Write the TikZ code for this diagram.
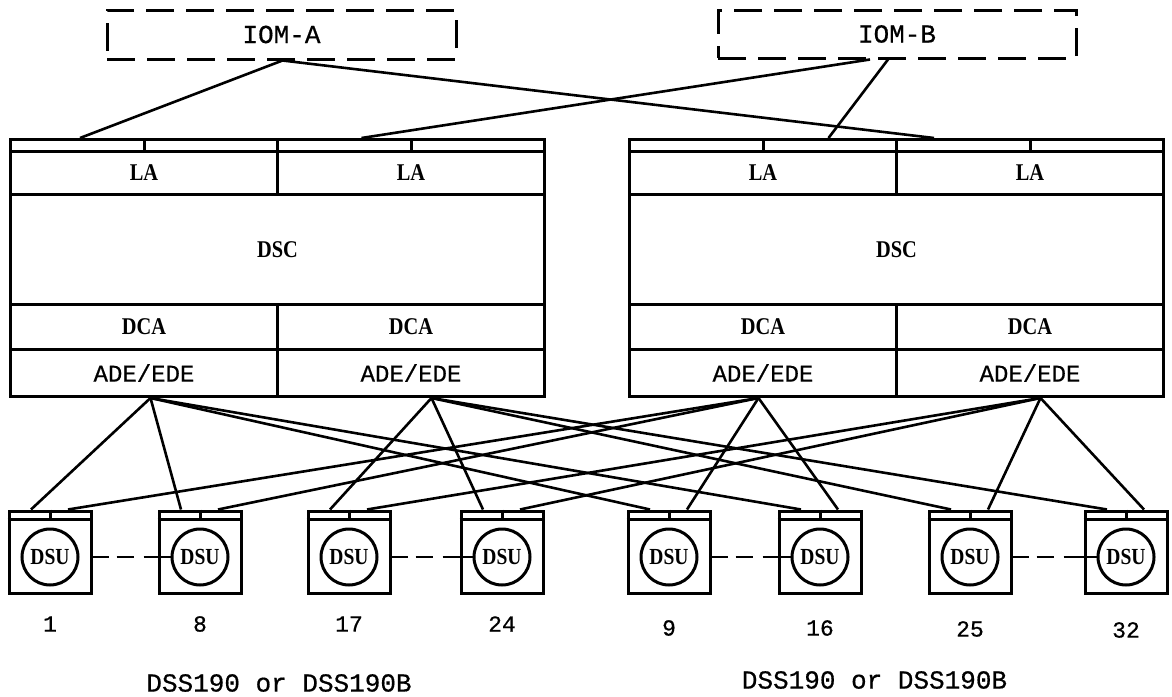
\documentclass[tikz,border=0pt]{standalone}
\usepackage{fontspec}
\setmainfont{Liberation Serif}
\newfontfamily\typefont[FakeBold=0.6]{Liberation Mono}
\newfontfamily\labfont[FakeStretch=0.85]{Liberation Serif}
\usetikzlibrary{calc}

\begin{document}
\begin{tikzpicture}
    [%%%%%%%%%%%%%%%%%%%%%%%%%%%%%%
        x=0.5pt, y=-0.5pt, line width=1.5pt,
        iom/.style={rectangle,draw=black,dash pattern=on 14pt off 6pt,font=\typefont\fontsize{13}{15}\selectfont},
        cell/.style={rectangle,draw=black,anchor=north west,inner sep=0pt,minimum width=133.5pt,font=\labfont\bfseries\fontsize{12}{14}\selectfont},
        wide/.style={cell,minimum width=267pt},
        adecell/.style={cell,font=\typefont\fontsize{12}{14}\selectfont},
        dsubox/.style={rectangle,draw=black,minimum width=41pt,minimum height=41pt,inner sep=0pt},
        disk/.style={circle,draw=black,minimum size=28pt,inner sep=0pt,font=\labfont\bfseries\fontsize{11.5}{12}\selectfont},
        num/.style={font=\typefont\fontsize{11.5}{14}\selectfont},
        title/.style={font=\typefont\fontsize{13}{15}\selectfont},
        link/.style={draw=black,line width=1.3pt},
        dsulink/.style={draw=black,line width=1.3pt,dash pattern=on 8pt off 4pt on 8.5pt off 5pt on 20pt},
    ]%%%%%%%%%%%%%%%%%%%%%%%%%%%%%%

\useasboundingbox (0,0) rectangle (1172,696);

\node[iom,minimum width=174.5pt,minimum height=24.5pt] (iomA) at (281.5,34.5) {IOM-A};
\node[iom,minimum width=179pt,minimum height=24pt] (iomB) at (897,34) {IOM-B};

\foreach \cx/\k in {9/1,628/2}{
    \node[cell,minimum height=6pt] (s\k1) at (\cx,138) {};
    \node[cell,minimum height=6pt] (s\k2) at (\cx+267,138) {};
    \draw (s\k1.north) -- (s\k1.south);
    \draw (s\k2.north) -- (s\k2.south);
    \node[cell,minimum height=21.5pt] (la\k1) at (\cx,150) {LA};
    \node[cell,minimum height=21.5pt] (la\k2) at (\cx+267,150) {LA};
    \node[wide,minimum height=55pt] (dsc\k) at (\cx,193) {DSC};
    \node[cell,minimum height=22.5pt] (dca\k1) at (\cx,303) {DCA};
    \node[cell,minimum height=22.5pt] (dca\k2) at (\cx+267,303) {DCA};
    \node[adecell,minimum height=23.5pt] (ade\k1) at (\cx,348) {ADE/EDE};
    \node[adecell,minimum height=23.5pt] (ade\k2) at (\cx+267,348) {ADE/EDE};
}

\draw[link] ($(iomA.south)+(1,0)$) -- ($(s11.north)+(-64,0)$);
\draw[link] ($(iomA.south)+(1,0)$) -- ($(s22.north)+(-96,0)$);
\draw[link] ($(iomB.south)+(-27,0)$) -- ($(s12.north)+(-49.5,0)$);
\draw[link] ($(iomB.south)+(-9,0)$) -- ($(s21.north)+(65.5,0)$);

\foreach \c/\n/\ny in {50/1/624,200/8/624,349/17/624,502/24/624,669/9/628,820/16/628,970/25/629,1126/32/630}{
    \node[dsubox] (d\n) at (\c,552) {};
    \draw ($(d\n.north west)+(0,10)$) -- ($(d\n.north east)+(0,10)$);
    \draw (d\n.north) -- ++(0,10);
    \node[disk] (c\n) at (\c,557) {DSU};
    \node[num] (n\n) at (\c,\ny) {\n};
}

\foreach \a/\b in {1/8,17/24,9/16,25/32}
    \draw[dsulink] (d\a.east |- c\b.west) -- (c\b.west);

\foreach \n in {1,8,9,16}{
    \draw[link] ($(ade11.south)+(6.5,0)$) -- ($(d\n.north)+(-19,0)$);
    \draw[link] ($(ade21.south)+(-4.5,0)$) -- ($(d\n.north)+(18,0)$);
}
\foreach \n in {17,24,25,32}{
    \draw[link] ($(ade12.south)+(20.5,0)$) -- ($(d\n.north)+(-19,0)$);
    \draw[link] ($(ade22.south)+(10.5,0)$) -- ($(d\n.north)+(18,0)$);
}

\node[title] (t1) at (279,683) {DSS190 or DSS190B};
\node[title] (t2) at (874.5,680) {DSS190 or DSS190B};
\end{tikzpicture}
\end{document}
